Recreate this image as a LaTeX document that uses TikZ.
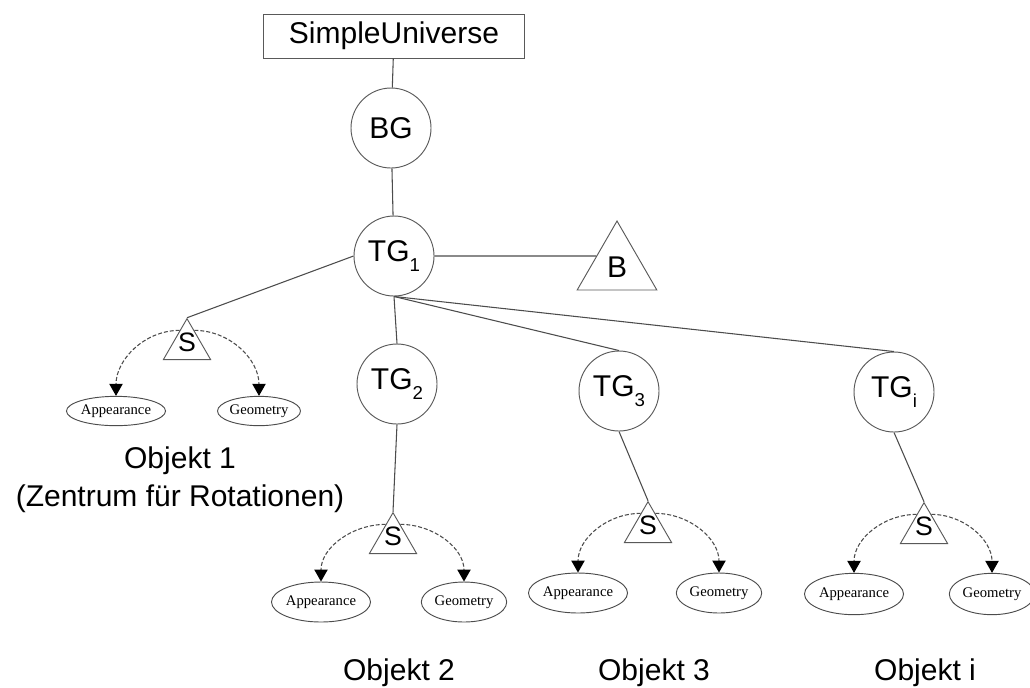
\documentclass[tikz,border=0pt]{standalone}
\usepackage{fontspec}
\setmainfont{Liberation Sans}
\newfontfamily\leaffont{Liberation Serif}
\usetikzlibrary{shapes.geometric,arrows.meta,calc}
\newcommand{\grpsub}[1]{\raisebox{-7pt}{\fontsize{14}{14}\selectfont #1}}
\tikzset{
  big/.style={font=\fontsize{22.5}{27}\selectfont},
  grp/.style={circle,draw=black!65,line width=0.7pt,minimum size=60pt,inner sep=0pt,big},
  tri/.style={regular polygon,regular polygon sides=3,draw=black!65,line width=0.7pt,inner sep=0pt},
  shp/.style={tri,minimum size=41pt,label={[font=\fontsize{20}{20}\selectfont,yshift=3pt]center:S}},
  leaf/.style={ellipse,draw=black!70,line width=0.7pt,inner sep=0pt,minimum width=64pt,minimum height=30pt,font=\leaffont\fontsize{11}{11}\selectfont},
  link/.style={draw=black!70,line width=0.8pt},
  ref/.style={draw=black!70,line width=0.8pt,dash pattern=on 3pt off 1.5pt,-{Triangle[length=9pt,width=10pt,color=black]}},
  objname/.style={anchor=base,inner sep=0pt,big}
}
\begin{document}
\begin{tikzpicture}[x=0.75pt,y=0.75pt,yscale=-1]
\useasboundingbox (0,0) rectangle (1030,687);

\node [draw=black!65,line width=0.7pt,minimum width=196pt,minimum height=33pt,inner sep=0pt,big] (su) at (394,36) {SimpleUniverse};
\node [grp] (bg) at (391,128) {BG};
\node [grp] (tg1) at (394,256) {TG\grpsub{1}};
\node [tri,minimum size=69pt,big] (b) at (617,267) {B};

\node [grp] (tg2) at (397,384) {TG\grpsub{2}};
\node [grp] (tg3) at (619,391) {TG\grpsub{3}};
\node [grp] (tgi) at (894,392) {TG\grpsub{i}};

\node [shp] (s1) at (187,346) {};
\node [shp] (s2) at (393,540) {};
\node [shp] (s3) at (648,529) {};
\node [shp] (si) at (924,530) {};

\node [leaf,minimum width=61pt,minimum height=22pt] (a1) at (116,411) {Appearance};
\node [leaf,minimum width=61pt,minimum height=22pt] (g1) at (259,411) {Geometry};
\node [leaf] (a2) at (321,602) {Appearance};
\node [leaf] (g2) at (464,602) {Geometry};
\node [leaf,minimum width=66pt] (a3) at (578,593) {Appearance};
\node [leaf] (g3) at (719,593) {Geometry};
\node [leaf,minimum width=65pt,minimum height=31pt] (ai) at (854,594) {Appearance};
\node [leaf,minimum height=31pt] (gi) at (992,594) {Geometry};

\node [objname] (o1) at (180,468) {Objekt 1};
\node [objname] (o1z) at (180,506) {(Zentrum für Rotationen)};
\node [objname] (o2) at (399,680) {Objekt 2};
\node [objname] (o3) at (654,680) {Objekt 3};
\node [objname] (oi) at (925,680) {Objekt i};

\draw [link] (su) -- (bg);
\draw [link] (bg) -- (tg1);
\draw [link] (tg1.east) -- ($(b.corner 1)!0.51!(b.corner 2)$);
\draw [link] (tg1.west) -- (s1.corner 1);
\draw [link] (tg1.south) -- (tg2.north);
\draw [link] (tg1.south) -- (tg3.north);
\draw [link] (tg1.south) -- (tgi.north);
\draw [link] (tg2.south) -- (s2.corner 1);
\draw [link] (tg3.south) -- (s3.corner 1);
\draw [link] (tgi.south) -- (si.corner 1);

\draw [ref] (s1.115) to[out=180,in=-90] (a1.north);
\draw [ref] (s1.65) to[out=0,in=-90] (g1.north);
\draw [ref] (s2.115) to[out=180,in=-90] (a2.north);
\draw [ref] (s2.65) to[out=0,in=-90] (g2.north);
\draw [ref] (s3.115) to[out=180,in=-90] (a3.north);
\draw [ref] (s3.65) to[out=0,in=-90] (g3.north);
\draw [ref] (si.115) to[out=180,in=-90] (ai.north);
\draw [ref] (si.65) to[out=0,in=-90] (gi.north);

\end{tikzpicture}
\end{document}
